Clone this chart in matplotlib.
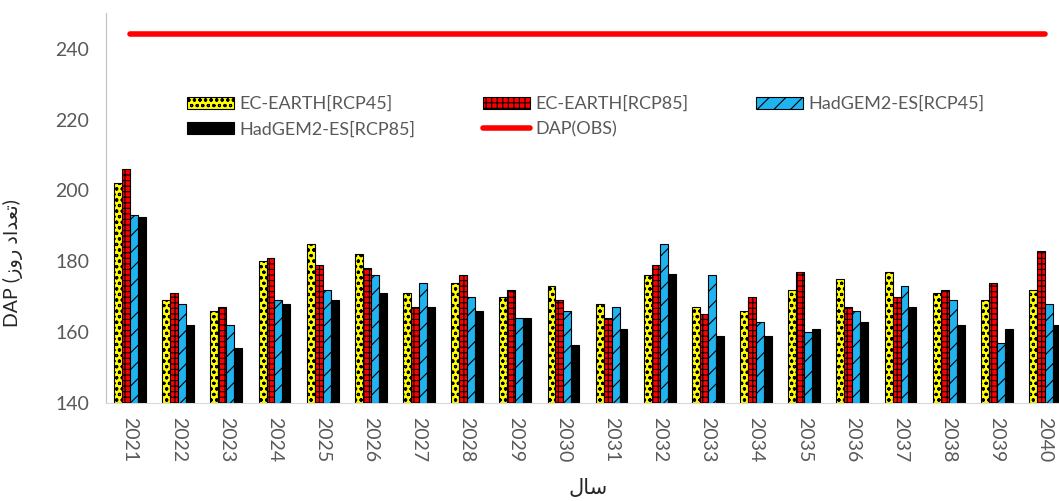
import matplotlib
matplotlib.use("Agg")
import matplotlib.pyplot as plt
import numpy as np

years = [str(y) for y in range(2021, 2041)]
ec_rcp45 = [202, 169, 166, 180, 185, 182, 171, 174, 170, 173,
            168, 176, 167, 166, 172, 175, 177, 171, 169, 172]
ec_rcp85 = [206, 171, 167, 181, 179, 178, 167, 176, 172, 169,
            164, 179, 165, 170, 177, 167, 170, 172, 174, 183]
had_rcp45 = [193, 168, 162, 169, 172, 176, 174, 170, 164, 166,
             167, 185, 176, 163, 160, 166, 173, 169, 157, 168]
had_rcp85 = [192.5, 162, 155.5, 168, 169, 171, 167, 166, 164, 156.5,
             161, 176.5, 159, 159, 161, 163, 167, 162, 161, 162]
dap_obs = [244] * len(years)

# matplotlib has no bidi/shaping, so the Persian labels are written with
# Arabic presentation forms in visual order:
# "DAP (تعداد روز)" and "سال"
ylab = 'DAP (\uFEAF\uFEED\uFEAD \uFEA9\uFE8D\uFEAA\uFECC\uFE97)'
xlab = '\uFEDD\uFE8E\uFEB3'

plt.rcParams['font.family'] = ['Lato', 'DejaVu Sans']
plt.rcParams['hatch.linewidth'] = 0.8

fig = plt.figure(figsize=(10.59, 5.01), dpi=100)
ax = fig.add_axes([0.1, 0.1956, 0.905, 0.778])

x = np.arange(len(years))
w = 0.165
series = [
    (ec_rcp45, 'EC-EARTH[RCP45]', '#FFFF00', 'ooo'),
    (ec_rcp85, 'EC-EARTH[RCP85]', '#FF0000', '+++'),
    (had_rcp45, 'HadGEM2-ES[RCP45]', '#1FB4F0', '//'),
    (had_rcp85, 'HadGEM2-ES[RCP85]', '#000000', None),
]
handles = []
for i, (vals, name, col, hatch) in enumerate(series):
    bars = ax.bar(x + (i - 1.5) * w, np.array(vals) - 140, w, bottom=140,
                  color=col, edgecolor='black', linewidth=0.8, hatch=hatch, label=name)
    handles.append(bars)

line, = ax.plot(x, dap_obs, color='#FF0000', linewidth=4, solid_capstyle='round', label='DAP(OBS)')

ax.set_ylim(140, 250)
ax.set_xlim(-0.5, 19.4)
ax.set_yticks(range(140, 241, 20))
ax.set_xticks(x)
ax.set_xticklabels(years, rotation=270)
ax.tick_params(axis='both', length=0, labelsize=14, colors='#595959')
ax.tick_params(axis='x', pad=10)
ax.tick_params(axis='y', pad=12)
for s in ['top', 'right']:
    ax.spines[s].set_visible(False)
ax.spines['left'].set_color('#BFBFBF')
ax.spines['bottom'].set_color('#D9D9D9')

ax.set_ylabel(ylab, fontsize=14, color='#262626')
ax.yaxis.set_label_coords(-0.086, 0.36)
fig.text(0.555, 0.005, xlab, fontsize=15, color='#262626', ha='center', va='bottom')

order = [handles[0], handles[3], handles[1], line, handles[2]]
fig.legend(handles=order, labels=[h.get_label() for h in order], ncol=3,
           loc='upper left', bbox_to_anchor=(187 / 1059, 1 - 96 / 501),
           frameon=False, fontsize=13, labelcolor='#595959',
           handlelength=2.6, handleheight=0.7, handletextpad=0.3,
           columnspacing=3.75, borderpad=0, borderaxespad=0, labelspacing=0.5)

fig.savefig('out.png', dpi=100)
